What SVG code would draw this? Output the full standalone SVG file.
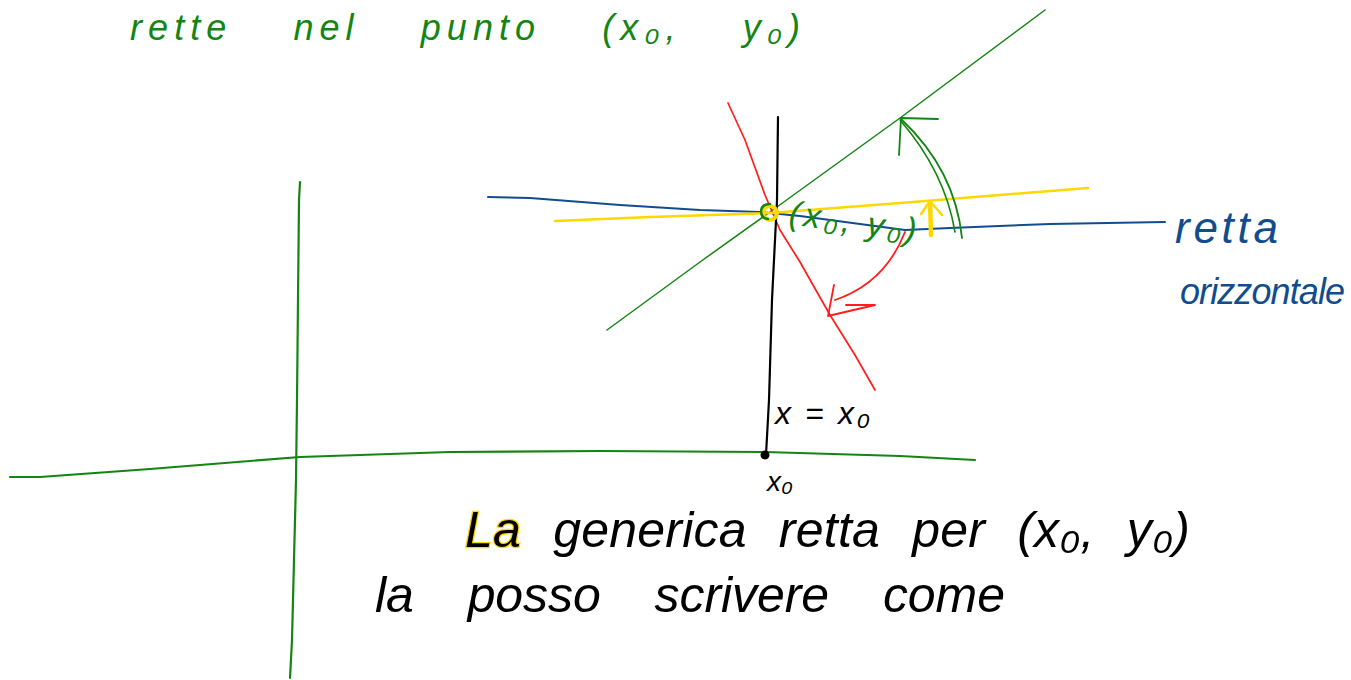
<svg xmlns="http://www.w3.org/2000/svg" width="1351" height="680" viewBox="0 0 1351 680">
<style>
.g{stroke:#138513;fill:none;stroke-linecap:round;stroke-linejoin:round}
.b{stroke:#114d8e;fill:none;stroke-linecap:round;stroke-linejoin:round}
.r{stroke:#ff1d1d;fill:none;stroke-linecap:round;stroke-linejoin:round}
.y{stroke:#ffd800;fill:none;stroke-linecap:round;stroke-linejoin:round}
.k{stroke:#000;fill:none;stroke-linecap:round;stroke-linejoin:round}
text{font-family:"Liberation Sans","DejaVu Sans",sans-serif;font-style:italic}
.tg{fill:#138513}.tb{fill:#114d8e}.tk{fill:#000}
</style>
<rect width="1351" height="680" fill="#fff"/>
<g id="connectors">
<polyline id="axis-y" class="g" stroke-width="2.2" points="300,182 299,200 298,300 297,400 296,480 294,560 292,640 290,678"/>
<polyline id="axis-x" class="g" stroke-width="2.2" points="10,477 40,477 150,469 300,457 450,452 600,451 765,452 900,456 975,460"/>
<polyline id="line-green" class="g" stroke-width="1.5" points="607,330 700,262 770,212 900,118 1045,10"/>
<polyline id="line-red" class="r" stroke-width="1.7" points="728,103 745,140 765,195 780,230 800,262 830,315 855,355 875,390"/>
<polyline id="line-blue" class="b" stroke-width="2" points="488,197 530,198 620,205 700,210 760,212 800,216 860,224 905,230 950,228 1050,224 1165,222"/>
<polyline id="line-yellow" class="y" stroke-width="2.5" points="555,221 650,217 770,213 900,203 1000,195 1088,188"/>
<polyline id="line-vertical" class="k" stroke-width="2.2" points="778,117 777,200 772,300 769,400 766,455"/>
<circle cx="765" cy="455" r="3.5" fill="#000" stroke="#000" stroke-width="2"/>
<g id="point">
<circle cx="770" cy="213" r="7" class="y" stroke-width="4"/>
<path class="g" stroke-width="2.5" d="M770,204 Q761,204 761,212 Q762,219 768,219"/>
</g>
<g id="arrow-red">
<path class="r" stroke-width="1.8" d="M905,232 Q885,283 835,300"/>
<path class="r" stroke-width="1.8" d="M834,285 L828,316 L875,305 L846,305"/>
</g>
<g id="arrow-green">
<path class="g" stroke-width="1.8" d="M962,238 Q955,170 902,120"/>
<path class="g" stroke-width="1.6" d="M955,232 Q945,172 900,120"/>
<path class="g" stroke-width="1.8" d="M899,155 L901,118 L938,119"/>
</g>
<g id="arrow-yellow">
<path class="y" stroke-width="4.5" d="M930,202 L931,235"/>
<path class="y" stroke-width="2.5" d="M921,214 L930,201 L942,215"/>
</g>
</g>
<g id="title"><text class="tg" x="130" y="40" font-size="36" textLength="670" lengthAdjust="spacing" word-spacing="45">rette nel punto (x₀, y₀)</text></g>
<g id="label-point"><text class="tg" x="788" y="224" font-size="34" textLength="128" lengthAdjust="spacing" transform="rotate(8 788 224)">(x₀, y₀)</text></g>
<g id="label-horizontal">
<text class="tb" x="1175" y="243" font-size="44" textLength="103" lengthAdjust="spacing">retta</text>
<text class="tb" x="1180" y="304" font-size="36" textLength="165" lengthAdjust="spacing">orizzontale</text>
</g>
<g id="label-vertical"><text class="tk" x="775" y="424" font-size="32" textLength="95" lengthAdjust="spacing">x = x₀</text></g>
<g id="label-x0"><text class="tk" x="767" y="491" font-size="28">x₀</text></g>
<g id="caption">
<text class="tk" x="465" y="547" font-size="50" textLength="725" lengthAdjust="spacing" word-spacing="18"><tspan stroke="#ffd800" stroke-width="2.5" paint-order="stroke">La</tspan> generica retta per (x₀, y₀)</text>
<text class="tk" x="375" y="612" font-size="50" textLength="630" lengthAdjust="spacing" word-spacing="40">la posso scrivere come</text>
</g>
</svg>
